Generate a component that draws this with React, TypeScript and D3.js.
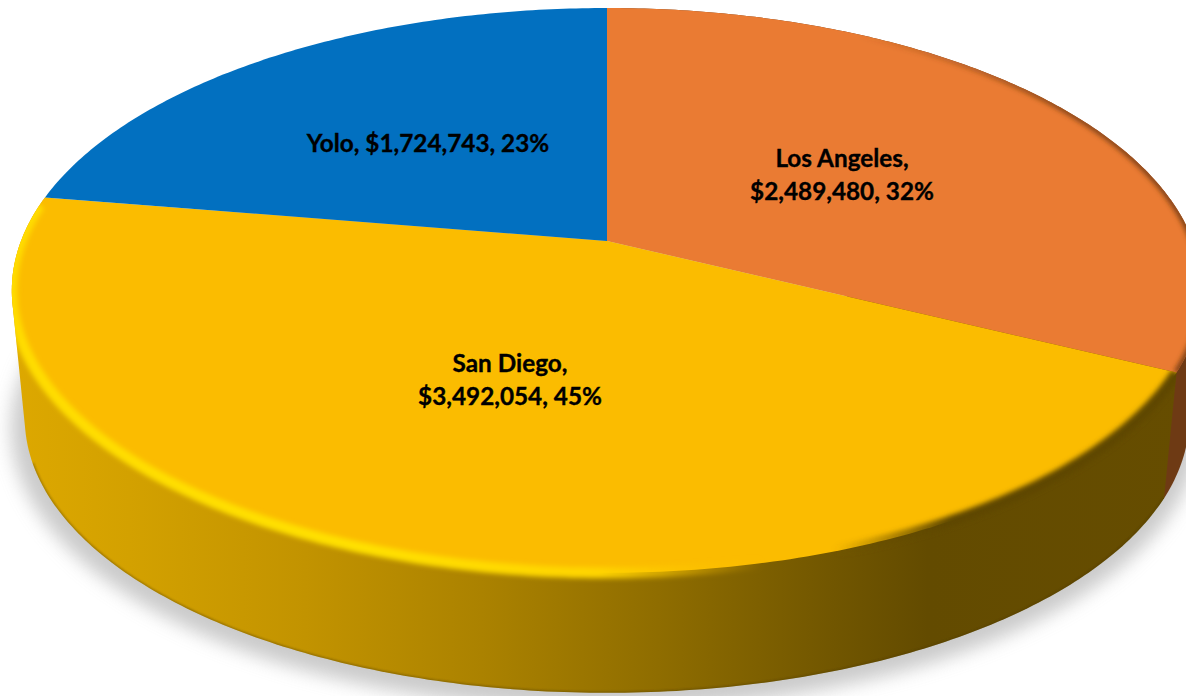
import React from "react";
import * as d3 from "d3";

const categories = ["Los Angeles", "San Diego", "Yolo"];
const values = [2489480, 3492054, 1724743];
const percents = ["32%", "45%", "23%"];
const topColors = ["#EA7B33", "#FBBC00", "#0270C0"];
const labelLines = [
  ["Los Angeles,", "$2,489,480, 32%"],
  ["San Diego,", "$3,492,054, 45%"],
  ["Yolo, $1,724,743, 23%"],
];
const labelAnchors: [number, number][] = [[842, 167], [510, 372], [428, 152]];

const W = 1186, H = 696;
const cx = 607, apexY = 241, persp = -0.175, ya = 231.6, k = 586;
const eCy = 290, eRy = 283, eRx = 595;
const bCy = 418, bRy = 275, bRx = 582;

const pie = d3.pie<number>().sort(null).value((d) => d);
const arcs = pie(values);

const project = (a: number): [number, number] => {
  const u = Math.sin(a), v = -Math.cos(a);
  const w = 1 + persp * v;
  return [cx + (k * u) / w, (ya * v + apexY) / w];
};
const projectBase = (a: number): [number, number] => {
  const [x, y] = project(a);
  return [cx + ((x - cx) * bRx) / eRx, bCy + ((y - eCy) * bRy) / eRy];
};
const line = d3.line();
const sampleAngles = (a0: number, a1: number) => {
  const n = Math.max(2, Math.ceil((a1 - a0) * 80));
  return d3.range(n + 1).map((i) => a0 + ((a1 - a0) * i) / n);
};
const topPath = (a0: number, a1: number) =>
  line([[cx, apexY], ...sampleAngles(a0, a1).map(project)]) + "Z";
const rimPath = (a0: number, a1: number) => line(sampleAngles(a0, a1).map(project)) || "";
const basePath = (a0: number, a1: number) => line(sampleAngles(a0, a1).map(projectBase)) || "";
const sidePath = (a0: number, a1: number) => {
  const hull = d3.polygonHull([...sampleAngles(a0, a1).map(project), ...sampleAngles(a0, a1).map(projectBase)]);
  return line(hull || []) + "Z";
};

const sideStops: [number, string][] = [
  [0, "#DDA800"], [0.1, "#D3A100"], [0.25, "#C29300"], [0.4, "#AB8200"], [0.55, "#8F6D00"],
  [0.7, "#715600"], [0.78, "#634B00"], [1, "#664D00"],
];
const rimStops: [number, string, number][] = [
  [0, "#FFDC00", 1], [0.3, "#FFE000", 1], [0.5, "#FFD400", 1], [0.64, "#FBBC00", 0],
  [0.7, "#6B5000", 0], [0.8, "#5E4700", 1], [1, "#5E4700", 1],
];
const orangeRimStops: [number, number][] = [[0.72, 0], [0.9, 0.9], [1, 1]];

export default function App() {
  const [la, sd] = arcs;
  return (
    <svg width={W} height={H} viewBox={`0 0 ${W} ${H}`}
      style={{ position: "absolute", left: 0, top: 0, display: "block", background: "#fff" }}>
      <defs>
        <linearGradient id="sideGrad" gradientUnits="userSpaceOnUse" x1={12} x2={1186} y1={0} y2={0}>
          {sideStops.map(([o, c]) => <stop key={o} offset={o} stopColor={c} />)}
        </linearGradient>
        <linearGradient id="rimGrad" gradientUnits="userSpaceOnUse" x1={12} x2={1186} y1={0} y2={0}>
          {rimStops.map(([o, c, a]) => <stop key={o} offset={o} stopColor={c} stopOpacity={a} />)}
        </linearGradient>
        <linearGradient id="orangeRim" gradientUnits="userSpaceOnUse" x1={12} x2={1186} y1={0} y2={0}>
          {orangeRimStops.map(([o, a]) => <stop key={o} offset={o} stopColor="#7A3F14" stopOpacity={a} />)}
        </linearGradient>
        <filter id="shadow" x="-10%" y="-10%" width="120%" height="120%">
          <feGaussianBlur stdDeviation="9" />
        </filter>
        <filter id="rimBlur" x="-5%" y="-5%" width="110%" height="110%">
          <feGaussianBlur stdDeviation="2.6" />
        </filter>
        <filter id="edgeBlur" x="-5%" y="-5%" width="110%" height="110%">
          <feGaussianBlur stdDeviation="0.8" />
        </filter>
        <clipPath id="clipOrangeTop">
          <path d={topPath(la.startAngle, la.endAngle)} />
        </clipPath>
        <clipPath id="clipYellow">
          <path d={topPath(sd.startAngle, sd.endAngle)} />
          <path d={sidePath(sd.startAngle, sd.endAngle)} />
        </clipPath>
        <clipPath id="clipYellowSide">
          <path d={sidePath(sd.startAngle, sd.endAngle)} />
        </clipPath>
      </defs>

      <ellipse cx={cx - 2} cy={bCy + 10} rx={bRx + 12} ry={bRy + 6} fill="#a8a8a8" opacity={0.6} filter="url(#shadow)" />

      <path d={sidePath(la.startAngle, la.endAngle)} fill="#6E3A14" />
      <path d={sidePath(sd.startAngle, sd.endAngle)} fill="url(#sideGrad)" />
      <g clipPath="url(#clipYellowSide)">
        <path d={basePath(sd.startAngle, sd.endAngle - 0.5)} fill="none" stroke="#4A3800" strokeOpacity={0.5}
          strokeWidth={2} filter="url(#edgeBlur)" />
      </g>

      {arcs.map((d, i) => (
        <path key={categories[i]} d={topPath(d.startAngle, d.endAngle)} fill={topColors[i]} />
      ))}

      <g clipPath="url(#clipYellow)">
        <path d={rimPath(sd.startAngle, sd.endAngle - 0.03)} fill="none" stroke="url(#rimGrad)"
          strokeWidth={11} filter="url(#rimBlur)" />
      </g>
      <g clipPath="url(#clipOrangeTop)">
        <path d={rimPath(la.startAngle, la.endAngle)} fill="none" stroke="url(#orangeRim)"
          strokeWidth={6} filter="url(#rimBlur)" />
      </g>

      {labelLines.map((lines, i) => (
        <text key={percents[i]} textAnchor="middle" fontFamily="Lato, 'Open Sans', sans-serif"
          fontWeight={700} fontSize={24.3} fill="#000" stroke="#000" strokeWidth={0.35}>
          {lines.map((t, j) => (
            <tspan key={t} x={labelAnchors[i][0]} y={labelAnchors[i][1] + j * 33}>{t}</tspan>
          ))}
        </text>
      ))}
    </svg>
  );
}
